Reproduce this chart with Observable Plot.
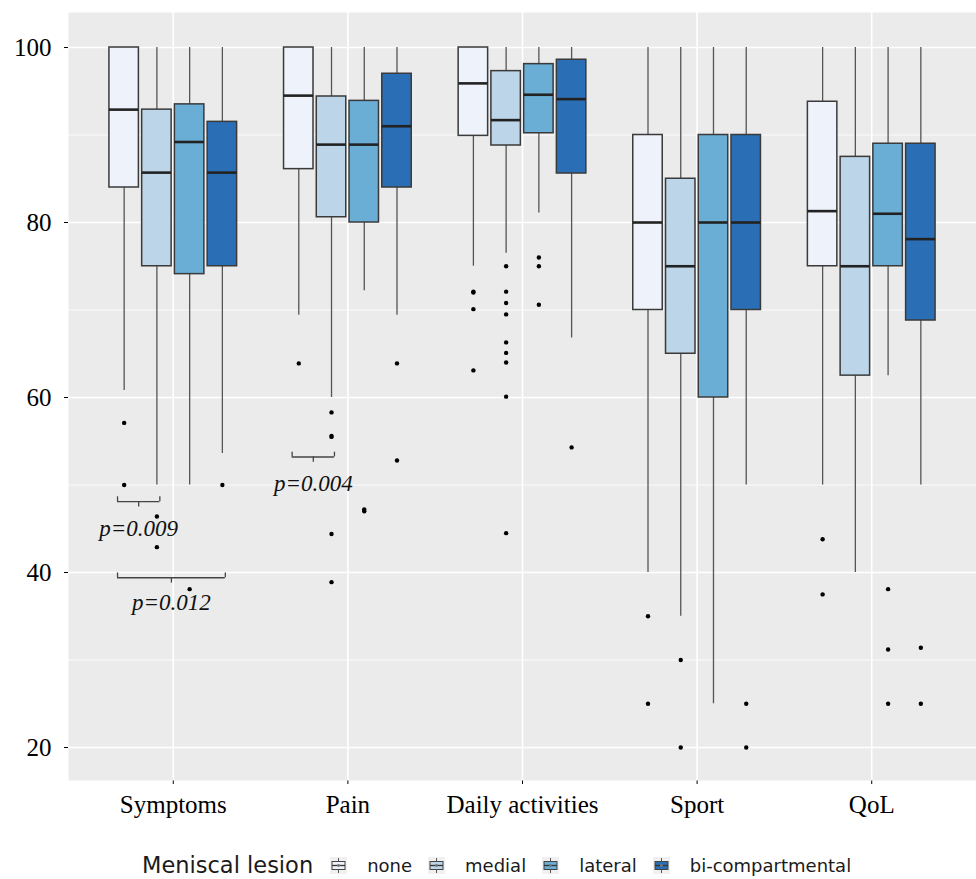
<!DOCTYPE html>
<html>
<head>
<meta charset="utf-8">
<script src="https://cdn.jsdelivr.net/npm/d3@7"></script>
<script src="https://cdn.jsdelivr.net/npm/@observablehq/plot@0.6"></script>
<style>
  body { margin: 0; background: #fff; }
  #wrap { position: relative; width: 976px; height: 879px; overflow: hidden; }
  #chart svg text { font-family: "Liberation Serif", "Times New Roman", serif; }
  #chart svg g[aria-label*="axis"] { font-family: "Liberation Serif", "Times New Roman", serif; }
  #chart svg g[aria-label*="axis"] text { font-size: 25px; fill: #000; }
  #legend { position: absolute; left: 142px; top: 851px; height: 28px; display: flex; align-items: center;
            font-family: "DejaVu Sans", sans-serif; color: #1a1a1a; white-space: nowrap; }
  #legend .title { font-size: 22.5px; margin-right: 17px; }
  #legend .item { display: flex; align-items: center; margin-right: 16px; }
  #legend .item span { font-size: 18px; margin-left: 20px; }
  #legend svg { display: block; }
</style>
</head>
<body>
<div id="wrap"><div id="chart"></div><div id="legend"></div></div>
<script>
// ---- data (rows: categories, columns: lesion groups) ----
const categories = ["Symptoms", "Pain", "Daily activities", "Sport", "QoL"];
const lesions = ["none", "medial", "lateral", "bi-compartmental"];
const lesionColors = ["#eef2fb", "#bcd5e8", "#6aaed6", "#2a6fb5"];
const legendTitle = "Meniscal lesion";

const whiskerLow = [
  [60.8, 50.0, 50.0, 53.6],
  [69.4, 60.0, 72.2, 69.4],
  [75.0, 76.5, 81.1, 66.8],
  [40.0, 35.0, 25.0, 50.0],
  [50.0, 40.0, 62.5, 50.0]
];
const q1 = [
  [84.0, 75.0, 74.1, 75.0],
  [86.1, 80.6, 80.0, 84.0],
  [89.9, 88.8, 90.2, 85.6],
  [70.0, 65.0, 60.0, 70.0],
  [75.0, 62.5, 75.0, 68.8]
];
const median = [
  [92.9, 85.7, 89.2, 85.7],
  [94.5, 88.9, 88.9, 91.0],
  [95.9, 91.7, 94.6, 94.1],
  [80.0, 75.0, 80.0, 80.0],
  [81.3, 75.0, 81.0, 78.1]
];
const q3 = [
  [100, 92.9, 93.5, 91.5],
  [100, 94.4, 93.9, 97.0],
  [100, 97.3, 98.1, 98.6],
  [90.0, 85.0, 90.0, 90.0],
  [93.8, 87.5, 89.0, 89.0]
];
const whiskerHigh = [
  [100, 100, 100, 100],
  [100, 100, 100, 100],
  [100, 100, 100, 100],
  [100, 100, 100, 100],
  [100, 100, 100, 100]
];
const outliers = [
  [[57.1, 50.0], [46.4, 42.9], [38.1], [50.0]],
  [[63.9], [58.3, 55.6, 55.5, 44.4, 38.9], [47.2, 47.0], [63.9, 52.8]],
  [[72.1, 72.0, 70.1, 63.1], [75.0, 72.1, 70.8, 69.5, 66.3, 65.1, 64.0, 60.1, 44.5], [76.0, 75.0, 70.6], [54.3]],
  [[35.0, 25.0], [30.0, 20.0], [], [25.0, 20.0]],
  [[43.8, 37.5], [], [38.1, 31.2, 25.0], [31.4, 25.0]]
];
const yTicks = [20, 40, 60, 80, 100];
const yMinor = [30, 50, 70, 90];
const brackets = [
  {category: "Symptoms", from: "none", to: "medial", y: 48.1, label: "p=0.009", labelY: 45.0},
  {category: "Symptoms", from: "none", to: "bi-compartmental", y: 39.4, label: "p=0.012", labelY: 36.6},
  {category: "Pain", from: "none", to: "medial", y: 53.2, label: "p=0.004", labelY: 50.2}
];

// ---- build tables (ggplot-like dodge: 0.75 of a category, boxes 0.9 of a slot) ----
const dodge = 0.75, boxFrac = 0.9;
const slot = dodge / lesions.length;
const half = slot * boxFrac / 2;
const xOf = (ci, li) => ci + (li - (lesions.length - 1) / 2) * slot;
const rows = [];
categories.forEach((c, ci) => lesions.forEach((l, li) => {
  const xc = xOf(ci, li);
  rows.push({category: c, lesion: l, xc, x1: xc - half, x2: xc + half,
    lo: whiskerLow[ci][li], q1: q1[ci][li], med: median[ci][li], q3: q3[ci][li],
    hi: whiskerHigh[ci][li], out: outliers[ci][li]});
}));
const outRows = rows.flatMap(r => r.out.map(v => ({x: r.xc, y: v})));
const br = brackets.map(b => {
  const ci = categories.indexOf(b.category);
  const xa = xOf(ci, lesions.indexOf(b.from)) - half * 0.45;
  const xb = xOf(ci, lesions.indexOf(b.to)) + half * 0.2;
  return {...b, xa, xb, xm: (xa + xb) / 2};
});
const catIdx = categories.map((_, i) => i);
const serif = '"Liberation Serif", "Times New Roman", serif';

const chart = Plot.plot({
  width: 976, height: 832,
  marginLeft: 68, marginRight: 0, marginTop: 12, marginBottom: 52,
  style: {fontFamily: serif, fontSize: "25px", color: "#000", background: "#fff"},
  x: {type: "linear", domain: [-0.6, categories.length - 0.4], ticks: catIdx, tickFormat: i => categories[i],
      tickSize: 4, tickPadding: 11, label: null},
  y: {domain: [16.23, 104], ticks: yTicks, tickFormat: d => d, tickSize: 4, tickPadding: 13, label: null},
  color: {domain: lesions, range: lesionColors},
  marks: [
    Plot.frame({fill: "#ebebeb", stroke: "none"}),
    Plot.ruleY(yMinor, {stroke: "#fff", strokeWidth: 0.8}),
    Plot.ruleY(yTicks, {stroke: "#fff", strokeWidth: 1.6}),
    Plot.ruleX(catIdx, {stroke: "#fff", strokeWidth: 1.6}),
    Plot.ruleX(rows, {x: "xc", y1: "lo", y2: "q1", stroke: "#555", strokeWidth: 1.3}),
    Plot.ruleX(rows, {x: "xc", y1: "q3", y2: "hi", stroke: "#555", strokeWidth: 1.3}),
    Plot.rect(rows, {x1: "x1", x2: "x2", y1: "q1", y2: "q3", fill: "lesion", stroke: "#3a3a3a", strokeWidth: 1.5}),
    Plot.ruleY(rows, {y: "med", x1: "x1", x2: "x2", stroke: "#222", strokeWidth: 2.6}),
    Plot.dot(outRows, {x: "x", y: "y", r: 2.2, fill: "#000", stroke: "none"}),
    // significance brackets
    Plot.ruleY(br, {y: "y", x1: "xa", x2: "xb", stroke: "#444", strokeWidth: 1.3}),
    Plot.ruleX(br, {x: "xa", y1: "y", y2: d => d.y + 0.55, stroke: "#444", strokeWidth: 1.3}),
    Plot.ruleX(br, {x: "xb", y1: "y", y2: d => d.y + 0.55, stroke: "#444", strokeWidth: 1.3}),
    Plot.ruleX(br, {x: "xm", y1: "y", y2: d => d.y - 0.6, stroke: "#444", strokeWidth: 1.3}),
    Plot.text(br, {x: "xm", y: "labelY", text: "label", fontStyle: "italic", fontSize: 23,
                   fontFamily: serif, fill: "#111"})
  ]
});
document.getElementById("chart").appendChild(chart);

// ---- legend (ggplot-style boxplot keys) ----
const legend = document.getElementById("legend");
const t = document.createElement("div");
t.className = "title"; t.textContent = legendTitle;
legend.appendChild(t);
lesions.forEach((l, i) => {
  const item = document.createElement("div");
  item.className = "item";
  item.innerHTML = `<svg width="17" height="17" viewBox="0 0 17 17">
    <rect x="0" y="0" width="17" height="17" fill="#f0f0f0"/>
    <line x1="8.5" x2="8.5" y1="1" y2="16" stroke="#555" stroke-width="1"/>
    <rect x="2" y="4.5" width="13" height="8" fill="${lesionColors[i]}" stroke="#444" stroke-width="1"/>
    <line x1="2" x2="15" y1="8.5" y2="8.5" stroke="#333" stroke-width="1.3"/>
    <circle cx="8.5" cy="8.5" r="1.4" fill="#777"/>
  </svg><span>${l}</span>`;
  legend.appendChild(item);
});
</script>
</body>
</html>
